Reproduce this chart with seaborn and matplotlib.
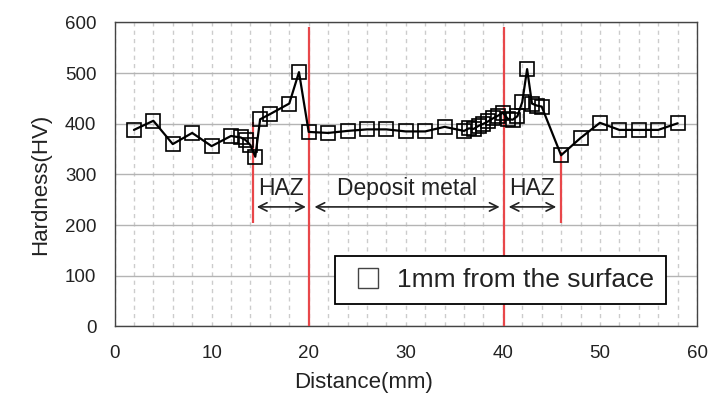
import matplotlib
matplotlib.use("Agg")
import matplotlib.pyplot as plt
import pandas as pd
import seaborn as sns
from matplotlib.lines import Line2D
from matplotlib.ticker import MultipleLocator

# Hardness traverse across the weld, 1 mm below the surface
distance_mm = [2, 4, 6, 8, 10, 12, 13, 13.5, 14, 14.5, 15, 16, 18, 19, 20,
               22, 24, 26, 28, 30, 32, 34, 36, 36.5, 37, 37.5, 38, 38.5, 39,
               39.5, 40, 40.5, 41, 41.5, 42, 42.5, 43, 43.5, 44, 46, 48, 50,
               52, 54, 56, 58]
hardness_hv = [388, 406, 360, 382, 356, 376, 373, 368, 358, 335, 409, 419, 440,
               502, 384, 382, 386, 389, 389, 385, 385, 394, 386, 391, 390, 396,
               400, 405, 411, 416, 422, 410, 408, 415, 443, 508, 440, 436, 434,
               338, 372, 402, 388, 388, 388, 401]
series_label = "1mm from the surface"

# Zone boundaries (mm) and the hardness range each red marker line covers
boundary_mm = [14.3, 20.0, 40.1, 46.0]
boundary_low = [205, 0, 0, 205]
boundary_high = [404, 592, 592, 345]

# Zone labels with the extent of their double-headed arrows
zone_names = ["HAZ", "Deposit metal", "HAZ"]
zone_start = [14.66, 20.6, 40.6]
zone_end = [19.71, 39.67, 45.5]

x_ticks = [0, 10, 20, 30, 40, 50, 60]
y_ticks = [0, 100, 200, 300, 400, 500, 600]

df = pd.DataFrame({"Distance": distance_mm, "Hardness": hardness_hv})

sns.set_theme(style="white")
plt.rcParams["font.family"] = ["Liberation Sans", "DejaVu Sans"]

fig, ax = plt.subplots(figsize=(7.1, 3.98), dpi=100)
fig.subplots_adjust(left=0.1613, right=0.9817, bottom=0.1797, top=0.9435)

sns.lineplot(data=df, x="Distance", y="Hardness", ax=ax, estimator=None,
             sort=False, color="black", linewidth=1.6, marker="s",
             markersize=10.5, markerfacecolor="none", markeredgecolor="black",
             markeredgewidth=1.2, zorder=4)

ax.vlines(boundary_mm, boundary_low, boundary_high, colors="#e8474a",
          linewidth=1.6, zorder=3)

for name, x0, x1 in zip(zone_names, zone_start, zone_end):
    ax.annotate("", xy=(x0, 236), xytext=(x1, 236),
                arrowprops=dict(arrowstyle="<->,head_length=0.5,head_width=0.25",
                                color="#222222", lw=1.2, shrinkA=0, shrinkB=0))
    ax.text((x0 + x1) / 2, 259, name, ha="center", va="baseline",
            fontsize=16.5, color="#222222")

ax.set_xlim(0, 60)
ax.set_ylim(0, 600)
ax.set_xticks(x_ticks)
ax.set_yticks(y_ticks)
ax.xaxis.set_minor_locator(MultipleLocator(2))

ax.grid(False)
ax.yaxis.grid(True, which="major", color="#b4b4b4", linewidth=1.0)
ax.xaxis.grid(True, which="both", color="#cccccc", linewidth=1.0,
              linestyle=(0, (3, 3)))
ax.set_axisbelow(True)

for s in ax.spines.values():
    s.set_color("#444444")
    s.set_linewidth(1.0)

ax.tick_params(axis="both", which="major", direction="in", length=5,
               width=1, color="#444444", labelsize=13.5, labelcolor="#222222")
ax.tick_params(axis="x", which="major", pad=13)
ax.tick_params(axis="y", which="major", pad=13)
ax.tick_params(axis="x", which="minor", direction="in", length=3, width=0.8,
               color="#888888")

ax.set_xlabel("Distance(mm)", fontsize=16, color="#222222")
ax.set_ylabel("Hardness(HV)", fontsize=16, color="#222222")
ax.xaxis.set_label_coords(0.428, -0.15)
ax.yaxis.set_label_coords(-0.108, 0.469)

handle = Line2D([], [], linestyle="none", marker="s", markersize=14,
                markerfacecolor="white", markeredgecolor="#444444",
                markeredgewidth=1.0)
leg = ax.legend([handle], [series_label], loc="center",
                bbox_to_anchor=(0.6627, 0.153), frameon=True, fancybox=False,
                framealpha=1, edgecolor="black", fontsize=19,
                borderpad=0.45, handletextpad=0.3, borderaxespad=0,
                handlelength=1.6)
leg.get_frame().set_linewidth(1.3)
for t in leg.get_texts():
    t.set_color("#222222")

fig.savefig("out.png", dpi=100)
